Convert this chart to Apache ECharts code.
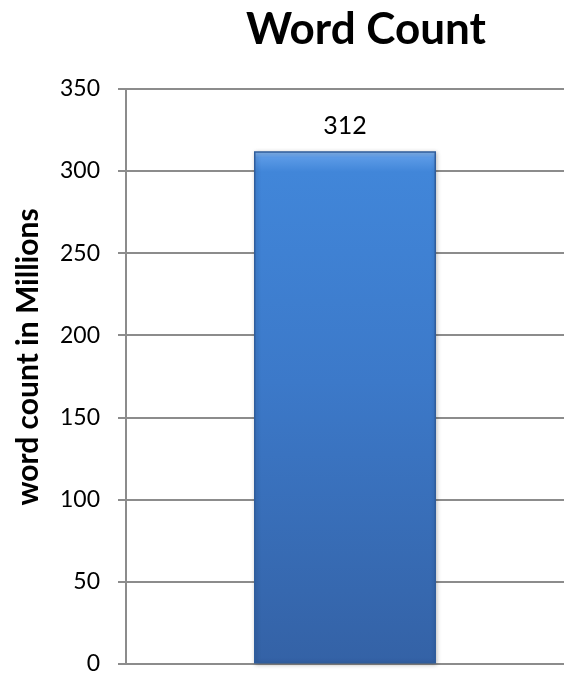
<!DOCTYPE html>
<html>
<head>
<meta charset="utf-8">
<script src="https://cdn.jsdelivr.net/npm/echarts@6/dist/echarts.min.js"></script>
<style>
  html, body { margin: 0; padding: 0; background: #ffffff; }
  #chart { width: 564px; height: 675px; }
</style>
</head>
<body>
<div id="chart"></div>
<script>
// Word count data (in millions)
const categories = ['Word Count'];
const wordCounts = [312];
const yTicks = { min: 0, max: 350, interval: 50 };
const axisTitle = 'word count in Millions';

const FONT = 'Lato';

const chart = echarts.init(document.getElementById('chart'), null, { renderer: 'canvas' });

chart.setOption({
  animation: false,
  backgroundColor: '#ffffff',
  title: {
    text: 'Word Count',
    left: 361,
    top: 3,
    textAlign: 'center',
    textStyle: {
      fontFamily: FONT,
      fontWeight: 'bold',
      fontSize: 44,
      color: '#000000'
    }
  },
  graphic: [{
    type: 'text',
    x: 28,
    y: 357,
    rotation: Math.PI / 2,
    style: {
      text: axisTitle,
      fontFamily: FONT,
      fontWeight: 'bold',
      fontSize: 30,
      fill: '#000000',
      align: 'center',
      verticalAlign: 'middle'
    }
  }],
  grid: {
    left: 126,
    top: 89,
    width: 448,
    height: 577,
    containLabel: false
  },
  xAxis: {
    type: 'category',
    data: categories,
    axisTick: { show: false },
    axisLabel: { show: false },
    axisLine: { show: true, lineStyle: { color: '#8c8c8c', width: 2 } }
  },
  yAxis: {
    type: 'value',
    min: yTicks.min,
    max: yTicks.max,
    interval: yTicks.interval,
    axisLine: { show: true, lineStyle: { color: '#8c8c8c', width: 2 } },
    axisTick: { show: true, inside: false, length: 8, lineStyle: { color: '#8c8c8c', width: 2 } },
    axisLabel: {
      fontFamily: FONT,
      fontSize: 23,
      color: '#000000',
      margin: 26
    },
    splitLine: { show: true, lineStyle: { color: '#8c8c8c', width: 2 } }
  },
  series: [{
    type: 'bar',
    data: wordCounts,
    barWidth: 182,
    label: {
      show: true,
      position: 'top',
      distance: 13,
      fontFamily: FONT,
      fontSize: 25,
      color: '#000000'
    },
    itemStyle: {
      color: new echarts.graphic.LinearGradient(0, 0, 0, 1, [
        { offset: 0, color: '#8ab8ee' },
        { offset: 0.012, color: '#5b9ae6' },
        { offset: 0.04, color: '#4186d9' },
        { offset: 0.45, color: '#3c79c9' },
        { offset: 1, color: '#3462a6' }
      ]),
      borderColor: '#2f5d9c',
      borderWidth: 1.5,
      shadowColor: 'rgba(0,0,0,0.25)',
      shadowBlur: 4,
      shadowOffsetX: 1,
      shadowOffsetY: 1
    }
  }]
});
</script>
</body>
</html>
